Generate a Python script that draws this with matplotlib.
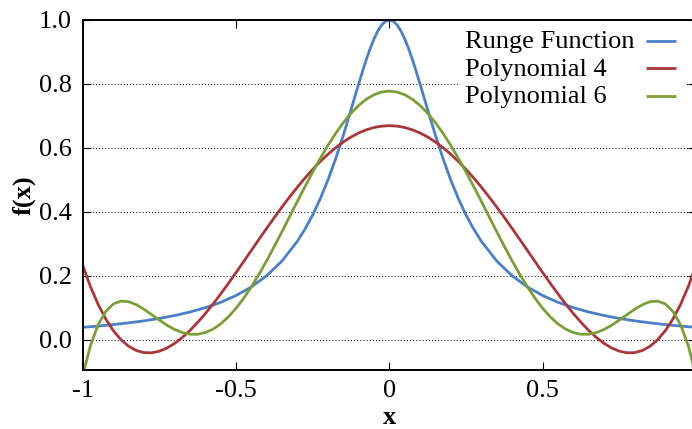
import matplotlib
matplotlib.use('Agg')
import matplotlib.pyplot as plt
from matplotlib.patches import Rectangle

plt.rcParams['font.family'] = ['Liberation Serif', 'DejaVu Serif']
plt.rcParams['axes.unicode_minus'] = False

# Runge function samples (finer near the peak)
x_runge = [-1.0, -0.95, -0.9, -0.85, -0.8, -0.75, -0.7, -0.65, -0.6, -0.55, -0.5, -0.45, -0.4,
           -0.35, -0.3, -0.275, -0.25, -0.225, -0.2, -0.175, -0.15, -0.125, -0.1, -0.0875,
           -0.075, -0.0625, -0.05, -0.0375, -0.025, -0.0125, 0.0,
           0.0125, 0.025, 0.0375, 0.05, 0.0625, 0.075, 0.0875, 0.1, 0.125, 0.15, 0.175, 0.2,
           0.225, 0.25, 0.275, 0.3, 0.35, 0.4, 0.45, 0.5, 0.55, 0.6, 0.65, 0.7, 0.75, 0.8,
           0.85, 0.9, 0.95, 1.0]
runge = [0.0385, 0.0424, 0.0471, 0.0525, 0.0588, 0.0664, 0.0755, 0.0865, 0.1000, 0.1168,
         0.1379, 0.1649, 0.2000, 0.2462, 0.3077, 0.3460, 0.3902, 0.4414, 0.5000, 0.5664,
         0.6400, 0.7191, 0.8000, 0.8393, 0.8767, 0.9110, 0.9412, 0.9660, 0.9846, 0.9961,
         1.0000,
         0.9961, 0.9846, 0.9660, 0.9412, 0.9110, 0.8767, 0.8393, 0.8000, 0.7191, 0.6400,
         0.5664, 0.5000, 0.4414, 0.3902, 0.3460, 0.3077, 0.2462, 0.2000, 0.1649, 0.1379,
         0.1168, 0.1000, 0.0865, 0.0755, 0.0664, 0.0588, 0.0525, 0.0471, 0.0424, 0.0385]

# Polynomial approximations
x_poly = [-1.0, -0.975, -0.95, -0.925, -0.9, -0.875, -0.85, -0.825, -0.8, -0.775, -0.75,
          -0.725, -0.7, -0.675, -0.65, -0.625, -0.6, -0.575, -0.55, -0.525, -0.5, -0.475,
          -0.45, -0.425, -0.4, -0.375, -0.35, -0.325, -0.3, -0.275, -0.25, -0.225, -0.2,
          -0.175, -0.15, -0.125, -0.1, -0.075, -0.05, -0.025, 0.0,
          0.025, 0.05, 0.075, 0.1, 0.125, 0.15, 0.175, 0.2, 0.225, 0.25, 0.275, 0.3, 0.325,
          0.35, 0.375, 0.4, 0.425, 0.45, 0.475, 0.5, 0.525, 0.55, 0.575, 0.6, 0.625, 0.65,
          0.675, 0.7, 0.725, 0.75, 0.775, 0.8, 0.825, 0.85, 0.875, 0.9, 0.925, 0.95, 0.975, 1.0]

poly4 = [0.2327, 0.1666, 0.1109, 0.0649, 0.0281, -0.0003, -0.0208, -0.0340, -0.0406, -0.0412,
         -0.0361, -0.0261, -0.0116, 0.0069, 0.0289, 0.0540, 0.0816, 0.1114, 0.1430, 0.1759,
         0.2098, 0.2444, 0.2792, 0.3140, 0.3484, 0.3822, 0.4150, 0.4467, 0.4771, 0.5058,
         0.5326, 0.5575, 0.5802, 0.6006, 0.6185, 0.6339, 0.6466, 0.6565, 0.6637, 0.6680,
         0.6694,
         0.6680, 0.6637, 0.6565, 0.6466, 0.6339, 0.6185, 0.6006, 0.5802, 0.5575, 0.5326,
         0.5058, 0.4771, 0.4467, 0.4150, 0.3822, 0.3484, 0.3140, 0.2792, 0.2444, 0.2098,
         0.1759, 0.1430, 0.1114, 0.0816, 0.0540, 0.0289, 0.0069, -0.0116, -0.0261, -0.0361,
         -0.0412, -0.0406, -0.0340, -0.0208, -0.0003, 0.0281, 0.0649, 0.1109, 0.1666, 0.2327]

poly6 = [-0.1134, -0.0194, 0.0460, 0.0881, 0.1116, 0.1206, 0.1187, 0.1093, 0.0950, 0.0782,
         0.0611, 0.0451, 0.0318, 0.0221, 0.0169, 0.0168, 0.0221, 0.0329, 0.0493, 0.0711,
         0.0980, 0.1295, 0.1653, 0.2047, 0.2471, 0.2918, 0.3380, 0.3851, 0.4324, 0.4790,
         0.5242, 0.5675, 0.6081, 0.6454, 0.6789, 0.7082, 0.7327, 0.7521, 0.7662, 0.7747,
         0.7776,
         0.7747, 0.7662, 0.7521, 0.7327, 0.7082, 0.6789, 0.6454, 0.6081, 0.5675, 0.5242,
         0.4790, 0.4324, 0.3851, 0.3380, 0.2918, 0.2471, 0.2047, 0.1653, 0.1295, 0.0980,
         0.0711, 0.0493, 0.0329, 0.0221, 0.0168, 0.0169, 0.0221, 0.0318, 0.0451, 0.0611,
         0.0782, 0.0950, 0.1093, 0.1187, 0.1206, 0.1116, 0.0881, 0.0460, -0.0194, -0.1134]

series_names = ['Runge Function', 'Polynomial 4', 'Polynomial 6']
xticks = [-1.0, -0.5, 0.0, 0.5, 1.0]
xtick_labels = ['-1', '-0.5', '0', '0.5', '1']
yticks = [0.0, 0.2, 0.4, 0.6, 0.8, 1.0]
ytick_labels = ['0.0', '0.2', '0.4', '0.6', '0.8', '1.0']

colors = ['#4c7fc3', '#a6373a', '#7c9d3b']
FS = 19

fig = plt.figure(figsize=(6.92, 4.29), dpi=100)
left, right, top, bottom = 0.1195, 1.0058, 0.9534, 0.1375
ax = fig.add_axes([left, bottom, right - left, top - bottom])

series = [(x_runge, runge), (x_poly, poly4), (x_poly, poly6)]
for (xs, ys), c in zip(series, colors):
    ax.plot(xs, ys, color=c, lw=2.0, zorder=2)

ax.set_xlim(-1, 1)
ax.set_ylim(-0.095, 1.0)
ax.set_xticks(xticks, xtick_labels)
ax.set_yticks(yticks, ytick_labels)
ax.tick_params(direction='in', length=6, width=0.8, top=True, right=True,
               labelsize=FS, colors='black')
ax.tick_params(axis='x', pad=7)
ax.tick_params(axis='y', pad=8)
ax.yaxis.grid(True, linestyle=(0, (1, 2.2)), color='black', lw=0.7)
ax.xaxis.grid(False)
ax.set_axisbelow(True)
for s in ax.spines.values():
    s.set_linewidth(1.4)

ax.set_xlabel('x', fontsize=FS, fontweight='bold', labelpad=3)
ax.set_ylabel('f(x)', fontsize=FS, fontweight='bold', labelpad=2)

# Key (gnuplot style: left-justified text, sample line on the right)
ax.add_patch(Rectangle((0.615, 0.737), 0.369, 0.262, transform=ax.transAxes,
                       facecolor='white', edgecolor='none', zorder=1.5))
key_text_x = 0.6234
key_line_x = (0.9187, 0.9676)
key_baselines = [0.920, 0.841, 0.762]
key_centers = [0.940, 0.863, 0.783]
for name, c, yb, yc in zip(series_names, colors, key_baselines, key_centers):
    ax.text(key_text_x, yb, name, transform=ax.transAxes, fontsize=FS,
            ha='left', va='baseline', zorder=3)
    ax.plot(key_line_x, (yc, yc), transform=ax.transAxes, color=c, lw=2.0,
            solid_capstyle='butt', zorder=3)

fig.savefig('out.png', dpi=100)
